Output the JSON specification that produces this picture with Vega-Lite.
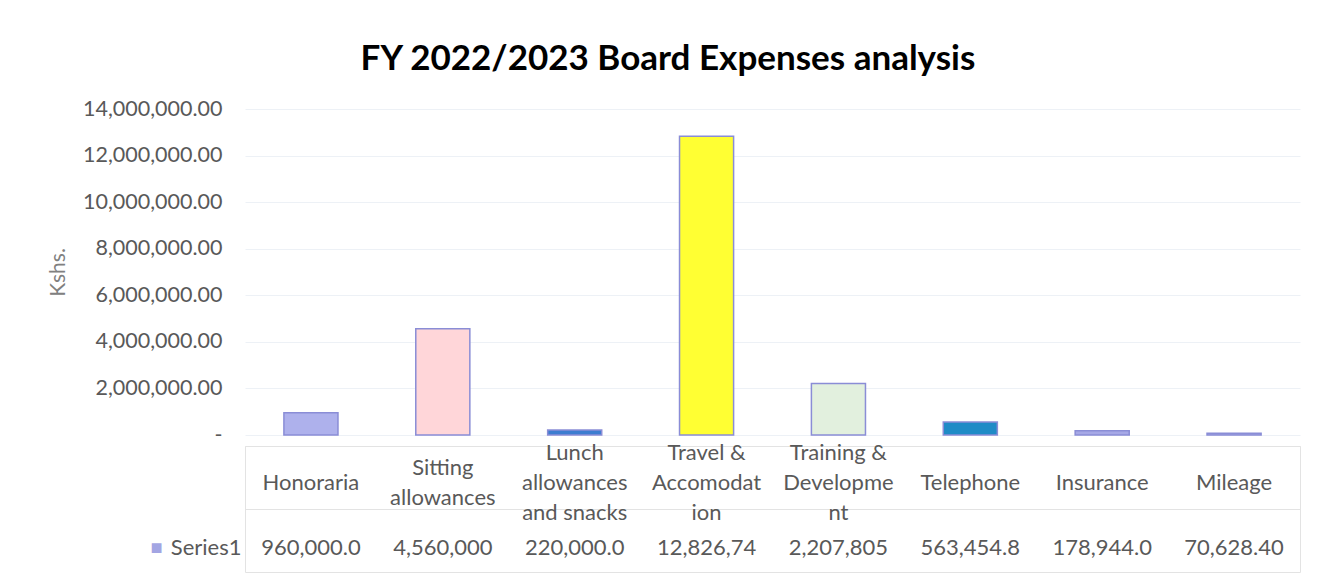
{
  "$schema": "https://vega.github.io/schema/vega-lite/v6.json",
  "background": "white",
  "padding": {"left": 47, "top": 42, "right": 5, "bottom": 5},
  "config": {"font": "Lato", "view": {"stroke": null}},
  "title": {"text": "FY 2022/2023 Board Expenses analysis", "fontSize": 35, "fontWeight": "bold", "color": "#000000", "font": "Lato", "anchor": "middle", "frame": "bounds", "offset": 21, "dx": -6},
  "datasets": {
    "expenses": [
      {"category": "Honoraria", "label": "Honoraria", "amount": 960000, "shown": "960,000.0"},
      {"category": "Sitting allowances", "label": "Sitting\nallowances", "amount": 4560000, "shown": "4,560,000"},
      {"category": "Lunch allowances and snacks", "label": "Lunch\nallowances\nand snacks", "amount": 220000, "shown": "220,000.0"},
      {"category": "Travel & Accomodation", "label": "Travel &\nAccomodat\nion", "amount": 12826740, "shown": "12,826,74"},
      {"category": "Training & Development", "label": "Training &\nDevelopme\nnt", "amount": 2207805, "shown": "2,207,805"},
      {"category": "Telephone", "label": "Telephone", "amount": 563454.8, "shown": "563,454.8"},
      {"category": "Insurance", "label": "Insurance", "amount": 178944, "shown": "178,944.0"},
      {"category": "Mileage", "label": "Mileage", "amount": 70628.4, "shown": "70,628.40"}
    ]
  },
  "spacing": -5,
  "vconcat": [
    {
      "width": 1055,
      "height": 326,
      "data": {"name": "expenses"},
      "mark": {"type": "bar", "stroke": "#8a8dd6", "strokeWidth": 1.5},
      "encoding": {
        "x": {"field": "category", "type": "nominal", "sort": null,
          "scale": {"domain": ["Honoraria", "Sitting allowances", "Lunch allowances and snacks", "Travel & Accomodation", "Training & Development", "Telephone", "Insurance", "Mileage"], "paddingInner": 0.59, "paddingOuter": 0.295}, "axis": null},
        "y": {"field": "amount", "type": "quantitative", "scale": {"domain": [0, 14000000], "nice": false},
          "axis": {"title": "Kshs.", "values": [0, 2000000, 4000000, 6000000, 8000000, 10000000, 12000000, 14000000],
            "labelExpr": "datum.value == 0 ? '-\u00a0\u00a0\u00a0\u00a0\u00a0' : format(datum.value, ',.2f')",
            "labelFontSize": 21.5, "labelColor": "#595959", "labelPadding": 23, "ticks": false, "domain": false,
            "gridColor": "#edf1f6", "titleFontSize": 21, "titleColor": "#808080", "titleFontWeight": "normal", "titlePadding": 14}},
        "color": {"field": "category", "type": "nominal", "sort": null,
          "scale": {"domain": ["Honoraria", "Sitting allowances", "Lunch allowances and snacks", "Travel & Accomodation", "Training & Development", "Telephone", "Insurance", "Mileage"],
            "range": ["#aeb1ec", "#ffd6d9", "#3d7dd0", "#ffff33", "#e2f0de", "#1f8bc6", "#a6a8e6", "#a6a8e6"]},
          "legend": null}
      }
    },
    {
      "width": 1055,
      "height": 126,
      "data": {"name": "expenses"},
      "view": {"stroke": "#e3e3e3"},
      "resolve": {"scale": {"y": "independent"}},
      "encoding": {
        "x": {"field": "category", "type": "nominal", "sort": null,
          "scale": {"domain": ["Honoraria", "Sitting allowances", "Lunch allowances and snacks", "Travel & Accomodation", "Training & Development", "Telephone", "Insurance", "Mileage"], "paddingInner": 0, "paddingOuter": 0},
          "axis": {"title": null, "labels": false, "ticks": false, "domain": false, "grid": true, "bandPosition": 0, "gridColor": "#e3e3e3"}}
      },
      "layer": [
        {
          "transform": [{"filter": "length(split(datum.label, '\\n')) == 1"}],
          "mark": {"type": "text", "lineBreak": "\n", "lineHeight": 30, "fontSize": 22, "color": "#595959", "baseline": "middle", "dy": 5.5},
          "encoding": {
            "y": {"datum": " ", "type": "nominal", "scale": {"type": "band", "domain": [" ", "Series1"], "paddingInner": 0, "paddingOuter": 0}, "axis": null},
            "text": {"field": "label"}
          }
        },
        {
          "transform": [{"filter": "length(split(datum.label, '\\n')) == 2"}],
          "mark": {"type": "text", "lineBreak": "\n", "lineHeight": 30, "fontSize": 22, "color": "#595959", "baseline": "middle", "dy": -9.5},
          "encoding": {
            "y": {"datum": " ", "type": "nominal", "scale": {"type": "band", "domain": [" ", "Series1"], "paddingInner": 0, "paddingOuter": 0}, "axis": null},
            "text": {"field": "label"}
          }
        },
        {
          "transform": [{"filter": "length(split(datum.label, '\\n')) == 3"}],
          "mark": {"type": "text", "lineBreak": "\n", "lineHeight": 30, "fontSize": 22, "color": "#595959", "baseline": "middle", "dy": -24.5},
          "encoding": {
            "y": {"datum": " ", "type": "nominal", "scale": {"type": "band", "domain": [" ", "Series1"], "paddingInner": 0, "paddingOuter": 0}, "axis": null},
            "text": {"field": "label"}
          }
        },
        {
          "mark": {"type": "text", "fontSize": 22, "color": "#595959", "baseline": "middle", "dy": 7.5},
          "encoding": {
            "y": {"datum": "Series1", "type": "nominal", "scale": {"type": "band", "domain": [" ", "Series1"], "paddingInner": 0, "paddingOuter": 0},
              "axis": {"title": null, "orient": "left", "ticks": false, "domain": false, "labelFontSize": 22, "labelColor": "#595959", "labelPadding": 4, "labelOffset": 7.5, "grid": true, "bandPosition": 0, "gridColor": "#e3e3e3"}},
            "text": {"field": "shown"}
          }
        },
        {
          "mark": {"type": "text", "text": ""},
          "encoding": {
            "x": {"field": "category", "type": "nominal", "sort": null, "axis": null},
            "y": {"datum": "Series1", "type": "nominal", "scale": {"type": "band", "domain": [" ", "Series1"], "paddingInner": 0, "paddingOuter": 0},
              "axis": {"title": null, "orient": "left", "offset": 81, "ticks": false, "domain": false, "grid": false, "labelExpr": "datum.label == 'Series1' ? '■' : ''", "labelFontSize": 20, "labelColor": "#a3a5e3", "labelPadding": 2, "labelOffset": 7.5}}
          }
        }
      ]
    }
  ]
}
